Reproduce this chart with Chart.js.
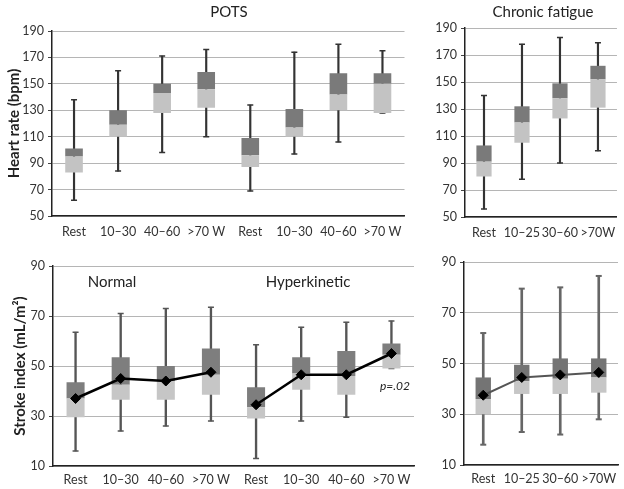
<!DOCTYPE html>
<html><head><meta charset="utf-8">
<script src="https://cdn.jsdelivr.net/npm/chart.js@4.4.1/dist/chart.umd.min.js"></script>
<style>
html,body{margin:0;padding:0;background:#fff;}
body{width:624px;height:489px;position:relative;overflow:hidden;font-family:Lato,"Open Sans",sans-serif;color:#222;}
.pane{position:absolute;}
.pane canvas{display:block;}
.lbl{position:absolute;white-space:nowrap;transform:translate(-50%,-50%);font-size:15px;color:#222;line-height:1;}
</style></head><body>
<div class="pane" style="left:0;top:0;width:410px;height:240px"><canvas id="cA" width="410" height="240"></canvas></div>
<div class="pane" style="left:420px;top:0;width:204px;height:240px"><canvas id="cB" width="204" height="240"></canvas></div>
<div class="pane" style="left:0;top:240px;width:420px;height:249px"><canvas id="cC" width="420" height="249"></canvas></div>
<div class="pane" style="left:420px;top:240px;width:204px;height:249px"><canvas id="cD" width="204" height="249"></canvas></div>
<div class="lbl" style="left:229px;top:11px">POTS</div>
<div class="lbl" style="left:543px;top:11px">Chronic fatigue</div>
<div class="lbl" style="left:112px;top:281px">Normal</div>
<div class="lbl" style="left:308px;top:281px">Hyperkinetic</div>
<div class="lbl" style="left:395px;top:386px;font-size:12px;font-style:italic">p=.02</div>
<script>
// ---- Data ----
const potsCategories = ['Rest','10–30','40–60','>70 W','Rest','10–30','40–60','>70 W'];
const cfCategories = ['Rest','10–25','30–60','>70W'];

// Heart rate, POTS (normal 4 + hyperkinetic 4)
const potsHrMin = [62, 84, 98, 110, 69, 97, 106, 128];
const potsHrQ1  = [83, 110, 128, 132, 87, 110, 130, 128];
const potsHrMed = [95, 119, 143, 146, 96, 117, 142, 150];
const potsHrQ3  = [101, 130, 150, 159, 109, 131, 158, 158];
const potsHrMax = [138, 160, 171, 176, 134, 174, 180, 175];

// Heart rate, chronic fatigue
const cfHrMin = [56, 78, 90, 99];
const cfHrQ1  = [80, 105, 123, 131];
const cfHrMed = [91, 120, 138, 152];
const cfHrQ3  = [103, 132, 149, 162];
const cfHrMax = [140, 178, 183, 179];

// Stroke index, POTS
const potsSiMin  = [16, 24, 26, 28, 13, 28, 29.5, 49];
const potsSiQ1   = [29.5, 36.5, 36.5, 38.5, 29, 40.5, 38.5, 49];
const potsSiMed  = [37, 42.5, 44, 46.5, 33.5, 47, 46, 54.5];
const potsSiQ3   = [43.5, 53.5, 50, 57, 41.5, 53.5, 56, 59];
const potsSiMax  = [63.5, 71, 73, 73.5, 58.5, 65.5, 67.5, 68];
const potsSiMean = [37, 45, 44, 47.5, 34.5, 46.5, 46.5, 55];

// Stroke index, chronic fatigue
const cfSiMin  = [18, 23, 22, 28];
const cfSiQ1   = [30, 38, 38, 38.5];
const cfSiMed  = [36, 43, 44, 44.5];
const cfSiQ3   = [44.5, 49.5, 52, 52];
const cfSiMax  = [62, 79.5, 80, 84.5];
const cfSiMean = [37.5, 44.5, 45.5, 46.5];

const hrTicks = {min: 50, max: 190, step: 20};
const siTicks = {min: 10, max: 90, step: 20};

// ---- Helpers ----
const FONT = 'Lato';
const TICK_SIZE = 12.5;
function boxSets(mins, q1s, meds, q3s, maxs, st) {
  const idx = mins.map((_, i) => i);
  return [
    {type:'bar', data: idx.map(i => [mins[i], maxs[i]]), backgroundColor: st.whisker, barThickness: st.ww, grouped:false, order:5},
    {type:'line', data: maxs, showLine:false, pointStyle:'line', pointRadius: 3, pointBorderWidth: st.ww, pointBorderColor: st.whisker, order:4},
    {type:'line', data: mins, showLine:false, pointStyle:'line', pointRadius: 3, pointBorderWidth: st.ww, pointBorderColor: st.whisker, order:4},
    {type:'bar', data: idx.map(i => [q1s[i], meds[i]]), backgroundColor: st.light, barPercentage:0.4, categoryPercentage:1, grouped:false, order:2},
    {type:'bar', data: idx.map(i => [meds[i], q3s[i]]), backgroundColor: st.dark, barPercentage:0.4, categoryPercentage:1, grouped:false, order:2}
  ];
}
function meanSet(vals, color, width, order) {
  return {type:'line', data: vals, borderColor: color, borderWidth: width, tension:0,
    pointStyle:'rectRot', pointRadius:5, pointBackgroundColor:'#000', pointBorderColor:'#000', pointBorderWidth:1, order: order, spanGaps:false};
}
function makeChart(id, cats, datasets, L) {
  return new Chart(document.getElementById(id), {
    type:'bar',
    data:{labels: cats, datasets: datasets},
    options:{
      responsive:false, animation:false, events:[],
      layout:{padding:{top:L.top, right:L.right, left:0, bottom:0}},
      plugins:{legend:{display:false}, tooltip:{enabled:false}},
      scales:{
        x:{offset:true, grid:{display:false, drawTicks:false},
           border:{display:true, color:'#222', width:1.5},
           ticks:{color:'#333', font:{family:FONT, size:TICK_SIZE}, padding:L.xpad, maxRotation:0, autoSkip:false},
           afterFit: s => { s.height = L.xh; }},
        y:{min:L.ticks.min, max:L.ticks.max,
           ticks:{stepSize:L.ticks.step, color:'#333', font:{family:FONT, size:TICK_SIZE}, padding:4},
           grid:{color:'#b5b5b5', lineWidth:1, tickLength:4, tickColor:'#444'},
           border:{color:'#222', width:1.5},
           title:{display: !!L.ytitle, text: L.ytitle || '', color:'#222', font:{family:FONT, size:15, weight:'bold'}, padding:{top:L.tpad || 0, bottom:0}},
           afterFit: s => { s.width = L.yw; }}
      }
    }
  });
}

const stTop = {whisker:'#333', ww:1.5, light:'#c3c3c3', dark:'#7a7a7a'};
const stBot = {whisker:'#555', ww:1.7, light:'#c6c6c6', dark:'#7e7e7e'};

makeChart('cA', potsCategories,
  boxSets(potsHrMin, potsHrQ1, potsHrMed, potsHrQ3, potsHrMax, stTop),
  {top:31, right:4, xh:24, yw:52, xpad:8, ticks:hrTicks, ytitle:'Heart rate (bpm)', tpad:5});

makeChart('cB', cfCategories,
  boxSets(cfHrMin, cfHrQ1, cfHrMed, cfHrQ3, cfHrMax, stTop),
  {top:28, right:4, xh:23, yw:45, xpad:8, ticks:hrTicks});

const normalMean = potsSiMean.map((v, i) => i < 4 ? v : null);
const hyperMean  = potsSiMean.map((v, i) => i >= 4 ? v : null);
makeChart('cC', potsCategories,
  boxSets(potsSiMin, potsSiQ1, potsSiMed, potsSiQ3, potsSiMax, stBot)
    .concat([meanSet(normalMean, '#000', 2.5, 0), meanSet(hyperMean, '#000', 2.5, 0)]),
  {top:26, right:5, xh:23, yw:53, xpad:6, ticks:siTicks, ytitle:'Stroke index (mL/m²)', tpad:11});

makeChart('cD', cfCategories,
  boxSets(cfSiMin, cfSiQ1, cfSiMed, cfSiQ3, cfSiMax, {whisker:'#666', ww:2, light:'#c6c6c6', dark:'#747474'})
    .concat([meanSet(cfSiMean, '#555', 2, 0)]),
  {top:22, right:1, xh:24, yw:44, xpad:6, ticks:siTicks});
</script>
</body></html>
